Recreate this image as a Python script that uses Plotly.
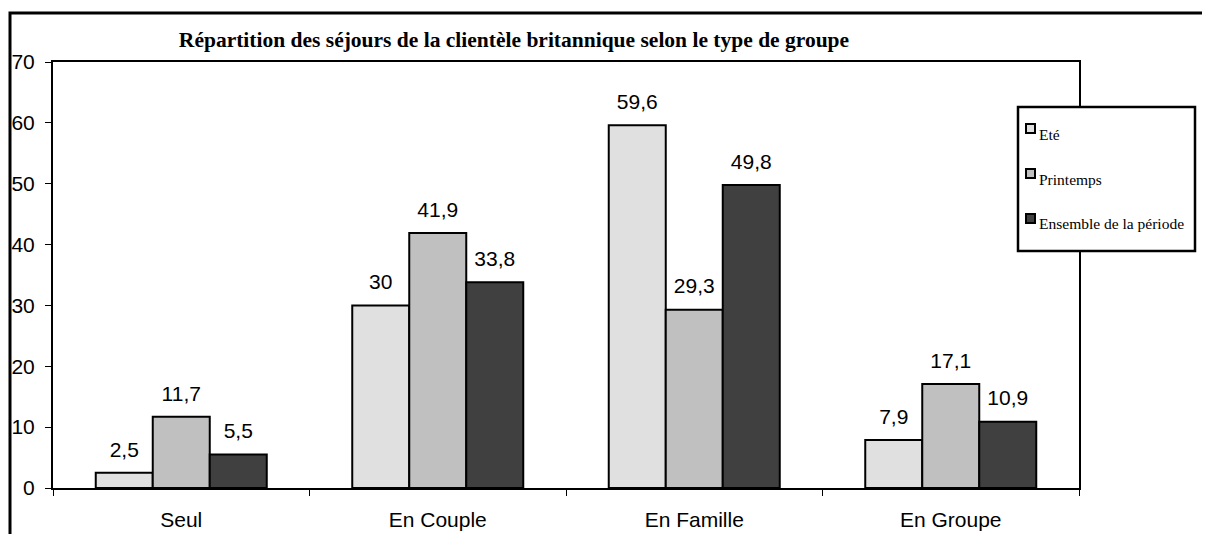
import plotly.graph_objects as go

categories = ["Seul", "En Couple", "En Famille", "En Groupe"]
ete = [2.5, 30, 59.6, 7.9]
printemps = [11.7, 41.9, 29.3, 17.1]
ensemble = [5.5, 33.8, 49.8, 10.9]
series_names = ["Eté", "Printemps", "Ensemble de la période"]
colors = ["#e0e0e0", "#c0c0c0", "#404040"]

def fmt(v):
    return ("%g" % v).replace(".", ",")

fig = go.Figure()
all_vals = [ete, printemps, ensemble]
for i, (name, vals) in enumerate(zip(series_names, all_vals)):
    fig.add_trace(go.Bar(
        x=categories, y=vals, name=name,
        marker=dict(color=colors[i], line=dict(color="black", width=2)),
        showlegend=False,
    ))
# value labels, grouped the same way as the bars
for i, (name, vals) in enumerate(zip(series_names, all_vals)):
    fig.add_trace(go.Scatter(
        x=categories, y=vals, mode="markers+text", name=name,
        marker=dict(size=16, opacity=0),
        text=[fmt(v) for v in vals], textposition="top center",
        textfont=dict(family="Liberation Sans, Arial", size=21, color="black"),
        cliponaxis=False, showlegend=False, hoverinfo="skip",
    ))

OFF = 8  # page body margin
L, R, T, B = 53 - OFF, 1079 - OFF, 62 - OFF, 488 - OFF
W, H = 1210 - OFF, 534 - OFF
pw, ph = R - L, B - T

def px(xr):  # reference pixel x -> paper
    return (xr - OFF - L) / pw

def py(yr):  # reference pixel y -> paper
    return 1 - (yr - OFF - T) / ph

fig.update_layout(
    width=W, height=H,
    margin=dict(l=L, r=W - R, t=T, b=H - B, autoexpand=False),
    paper_bgcolor="white", plot_bgcolor="white",
    barmode="group", bargap=1/3, bargroupgap=0,
    scattermode="group", scattergap=1/3,
    showlegend=False,
    title=dict(text="<b>Répartition des séjours de la clientèle britannique selon le type de groupe</b>",
               font=dict(family="Liberation Serif, Times New Roman", size=21.5, color="black"),
               x=(514 - OFF) / W, xanchor="center",
               y=1 - (39 - OFF) / H, yanchor="middle", xref="container", yref="container"),
    xaxis=dict(type="category", showline=True, linecolor="black", linewidth=2, mirror=True,
               ticks="outside", ticklen=6, tickcolor="black", tickson="boundaries",
               ticklabelstandoff=12,
               tickfont=dict(family="Liberation Sans, Arial", size=21, color="black"),
               showgrid=False, zeroline=False),
    yaxis=dict(range=[0, 70], dtick=10, showline=True, linecolor="black", linewidth=2, mirror=True,
               ticks="outside", ticklen=6, tickcolor="black", ticklabelstandoff=6,
               tickfont=dict(family="Liberation Sans, Arial", size=21, color="black"),
               showgrid=False, zeroline=False),
)

# outer chart border (partially outside visible area)
fig.add_shape(type="rect", xref="paper", yref="paper",
              x0=px(10), x1=px(1230), y0=py(560), y1=py(13),
              line=dict(color="black", width=3), layer="below")

# legend box
fig.add_shape(type="rect", xref="paper", yref="paper",
              x0=px(1018), x1=px(1195), y0=py(251), y1=py(107),
              line=dict(color="black", width=2.5), fillcolor="white", layer="above")
leg_y = [133, 178, 223]
for i, name in enumerate(series_names):
    yc = leg_y[i]
    fig.add_shape(type="rect", xref="paper", yref="paper",
                  x0=px(1026), x1=px(1035), y0=py(yc), y1=py(yc - 9),
                  line=dict(color="black", width=2), fillcolor=colors[i], layer="above")
    fig.add_annotation(xref="paper", yref="paper", x=px(1037), y=py(yc + 1),
                       text=name, showarrow=False, xanchor="left", yanchor="middle",
                       font=dict(family="Liberation Serif, Times New Roman", size=15.5, color="black"))

fig.write_html("out.html")
